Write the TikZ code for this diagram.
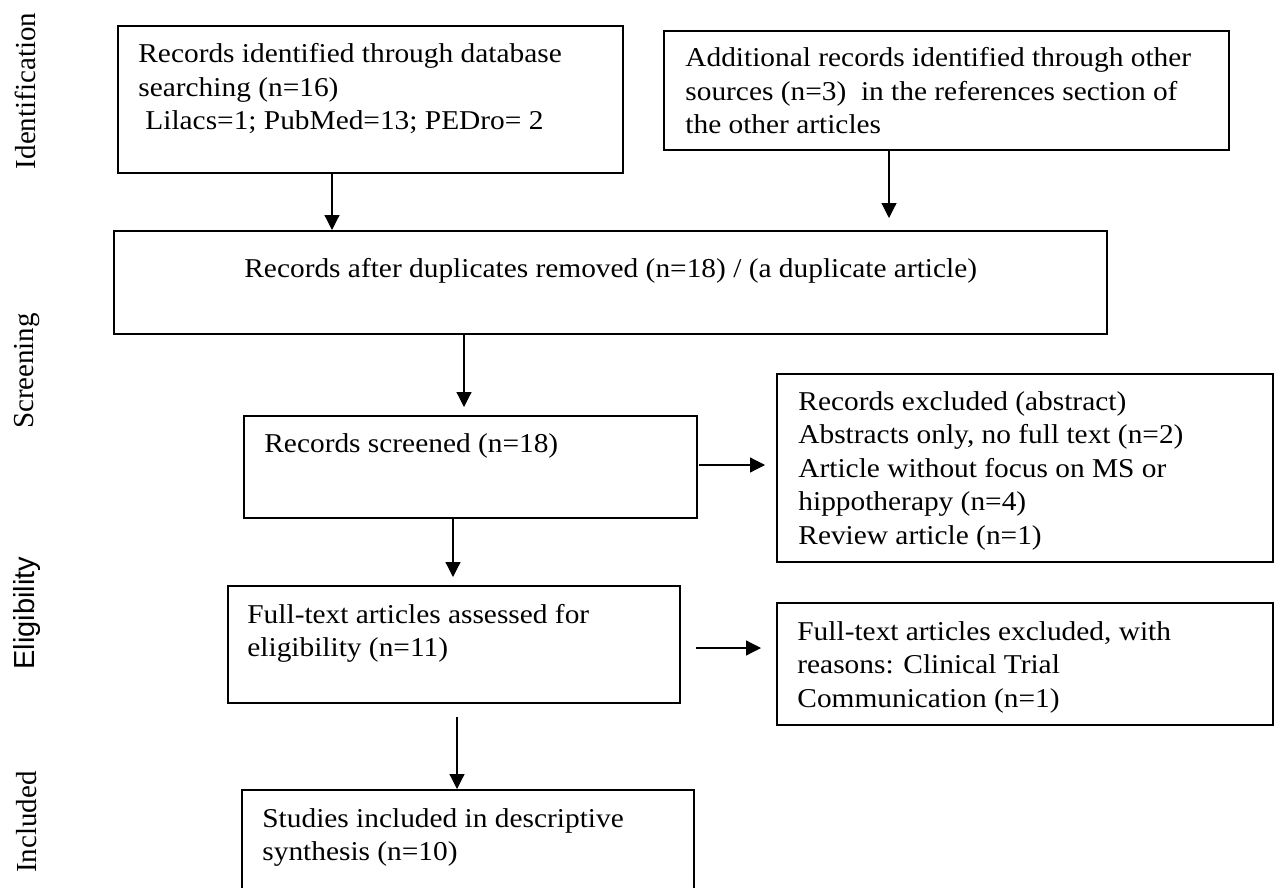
\documentclass[tikz,border=0pt]{standalone}
\usepackage{fontspec}
\setmainfont{Liberation Serif}
\newfontfamily\boxfont[FakeStretch=1.08]{Liberation Serif}
\newfontfamily\arialf{Liberation Sans}
\usetikzlibrary{arrows.meta}
\newcommand\mylines[1]{\begin{tabular}[t]{@{}l@{}}#1\end{tabular}}
\tikzset{
  box/.style={draw=black, line width=0.9pt, anchor=north west, inner sep=0pt, fill=none},
  txt/.style={anchor=base west, inner sep=0pt, font=\boxfont\fontsize{13.6pt}{16.75pt}\selectfont},
  lab/.style={rotate=90, inner sep=0pt, font=\fontsize{14.5pt}{16.8pt}\selectfont},
  arr/.style={-{Triangle[length=7.5pt,width=7.5pt]}, line width=0.6pt},
}
\begin{document}
\begin{tikzpicture}[x=0.5pt,y=-0.5pt]
\clip (0,0) rectangle (1280,888);
\fill[white] (0,0) rectangle (1280,888);

% phase labels
\node[lab] (lid) at (25,91) {Identification};
\node[lab] (lsc) at (27,371) {Screening};
\node[lab, font=\arialf\fontsize{14.5pt}{16.8pt}\selectfont] (lel) at (27,613) {Eligibility};
\node[lab] (lin) at (27,822) {Included};

% boxes
\node[box, minimum width=252.5pt, minimum height=73.5pt] (b1) at (117,25) {};
\node[box, minimum width=282.5pt, minimum height=59.5pt] (b2) at (663,30) {};
\node[box, minimum width=496.5pt, minimum height=51.5pt] (b3) at (113,230) {};
\node[box, minimum width=226.5pt, minimum height=51pt] (b4) at (243,415) {};
\node[box, minimum width=248pt, minimum height=94pt] (b6) at (776,373) {};
\node[box, minimum width=226pt, minimum height=58.5pt] (b5) at (227,585) {};
\node[box, minimum width=248pt, minimum height=61pt] (b8) at (776,602) {};
\node[box, minimum width=226pt, minimum height=56pt] (b7) at (241,789) {};

% texts
\node[txt] (t1) at (138,63) {\mylines{Records identified through database\\ searching (n=16)\\ \hspace{3.5pt}Lilacs=1; PubMed=13; PEDro= 2}};
\node[txt] (t2) at (685,67) {\mylines{Additional records identified through other\\ sources (n=3)\ \ in the references section of\\ the other articles}};
\node[txt] (t3) at (244,277) {Records after duplicates removed (n=18) / (a duplicate article)};
\node[txt] (t4) at (264,452) {Records screened (n=18)};
\node[txt] (t6) at (798,410) {\mylines{Records excluded (abstract)\\ Abstracts only, no full text (n=2)\\ Article without focus on MS or\\ hippotherapy (n=4)\\ Review article (n=1)}};
\node[txt] (t5) at (247,623) {\mylines{Full-text articles assessed for\\ eligibility (n=11)}};
\node[txt] (t8) at (797,640) {\mylines{Full-text articles excluded, with\\ reasons: Clinical Trial\\ Communication (n=1)}};
\node[txt] (t7) at (262,827) {\mylines{Studies included in descriptive\\ synthesis (n=10)}};

% connector guides
\coordinate (c1) at (332,0);
\coordinate (c2) at (889,0);
\coordinate (c3) at (464,0);
\coordinate (c4) at (453,0);
\coordinate (c5) at (0,465);
\coordinate (c6) at (457,0);
\coordinate (c7) at (0,648);

\draw[arr] (b1.south -| c1) -- (b3.north -| c1);
\draw[arr, shorten >=6pt] (b2.south -| c2) -- (b3.north -| c2);
\draw[arr, shorten >=4pt] (b3.south -| c3) -- (b4.north -| c3);
\draw[arr, shorten >=4pt] (b4.south -| c4) -- (b5.north -| c4);
\draw[arr, shorten <=0.5pt, shorten >=5.5pt] (b4.east |- c5) -- (b6.west |- c5);
\draw[arr, shorten <=6.5pt] (b5.south -| c6) -- (b7.north -| c6);
\draw[arr, shorten <=7.5pt, shorten >=7.5pt] (b5.east |- c7) -- (b8.west |- c7);
\end{tikzpicture}
\end{document}
